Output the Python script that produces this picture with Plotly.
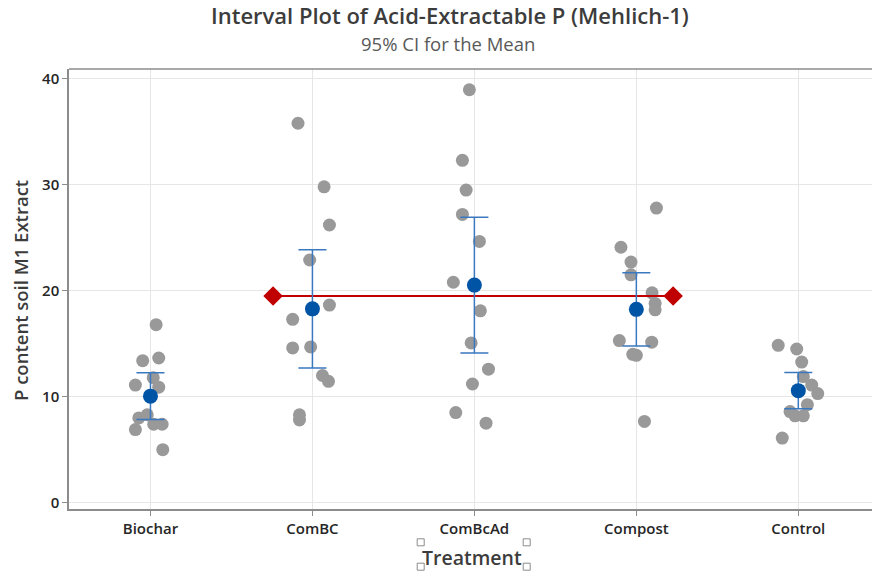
import math
import plotly.graph_objects as go

# Treatment groups and their Mehlich-1 P measurements
treatments = ["Biochar", "ComBC", "ComBcAd", "Compost", "Control"]

biochar = [16.8, 13.4, 13.65, 11.8, 11.1, 10.9, 8.0, 8.3, 6.9, 7.4, 7.4, 5.0]
combc = [35.8, 29.8, 26.2, 22.9, 18.65, 17.3, 14.6, 14.7, 12.0, 11.45, 8.3, 7.8]
combcad = [38.96, 32.3, 29.5, 27.2, 24.65, 20.8, 18.1, 15.07, 12.6, 11.2, 8.5, 7.5]
compost = [27.8, 24.1, 22.7, 21.5, 19.8, 18.8, 18.2, 15.3, 15.15, 14.0, 13.9, 7.67]
control = [14.85, 14.5, 13.27, 11.9, 11.1, 10.3, 9.25, 8.6, 8.2, 8.2, 6.1, 10.6]

# Horizontal jitter of the individual observations (category units)
jit_biochar = [0.035, -0.048, 0.051, 0.017, -0.093, 0.051, -0.072, -0.02, -0.093, 0.02, 0.072, 0.076]
jit_combc = [-0.089, 0.072, 0.105, -0.017, 0.105, -0.122, -0.122, -0.011, 0.062, 0.099, -0.08, -0.08]
jit_combcad = [-0.031, -0.074, -0.051, -0.074, 0.031, -0.13, 0.037, -0.02, 0.087, -0.012, -0.115, 0.072]
jit_compost = [0.124, -0.095, -0.033, -0.033, 0.097, 0.116, 0.116, -0.105, 0.095, -0.022, 0.0, 0.05]
jit_control = [-0.124, -0.01, 0.021, 0.031, 0.083, 0.12, 0.056, -0.051, -0.02, 0.031, -0.099, 0.0]

# Reference level drawn between ComBC and Compost
ref_level = 19.5
ref_from, ref_to = "ComBC", "Compost"

groups = [biochar, combc, combcad, compost, control]
jitters = [jit_biochar, jit_combc, jit_combcad, jit_compost, jit_control]

T_CRIT = {11: 2.200985, 10: 2.228139}


def mean_ci(vals):
    n = len(vals)
    m = sum(vals) / n
    sd = math.sqrt(sum((v - m) ** 2 for v in vals) / (n - 1))
    half = T_CRIT[n - 1] * sd / math.sqrt(n)
    return m, half


px, py = [], []
for i, (vals, jit) in enumerate(zip(groups, jitters)):
    for v, j in zip(vals, jit):
        px.append(i + j)
        py.append(v)

means, halves = zip(*[mean_ci(g) for g in groups])

fig = go.Figure()

fig.add_trace(go.Scatter(
    x=px, y=py, mode="markers",
    marker=dict(size=13, color="#999999"),
    showlegend=False, hoverinfo="y",
))

i0, i1 = treatments.index(ref_from), treatments.index(ref_to)
fig.add_trace(go.Scatter(
    x=[i0 - 0.243, i1 + 0.227], y=[ref_level, ref_level],
    mode="lines+markers",
    line=dict(color="#C00000", width=2),
    marker=dict(symbol="diamond", size=15, color="#C00000"),
    showlegend=False,
))

fig.add_trace(go.Scatter(
    x=list(range(len(treatments))), y=list(means), mode="markers",
    marker=dict(size=15, color="#0054A6"),
    error_y=dict(type="data", array=list(halves), visible=True,
                 color="#3A78C0", thickness=1.5, width=14),
    showlegend=False,
))

fig.update_layout(
    width=872, height=571,
    margin=dict(l=69, r=0, t=69, b=62),
    paper_bgcolor="white", plot_bgcolor="white",
    font=dict(family="Open Sans", color="#333333"),
    xaxis=dict(
        range=[-0.503, 4.455],
        tickmode="array", tickvals=list(range(len(treatments))), ticktext=treatments,
        showgrid=True, gridcolor="#E6E6E6", gridwidth=1,
        showline=True, linecolor="#8C8C8C", linewidth=1.5,
        ticks="outside", ticklen=5, tickcolor="#8C8C8C",
        tickfont=dict(size=15, color="#262626", weight=600),
        zeroline=False,
    ),
    yaxis=dict(
        range=[-0.595, 40.92],
        tickvals=[0, 10, 20, 30, 40],
        showgrid=True, gridcolor="#E6E6E6", gridwidth=1,
        showline=True, linecolor="#8C8C8C", linewidth=1.5,
        ticks="outside", ticklen=5, tickcolor="#8C8C8C",
        tickfont=dict(size=15, color="#262626", weight=600),
        zeroline=False,
    ),
    shapes=[
        dict(type="line", xref="paper", yref="paper", x0=0, x1=1, y0=1, y1=1,
             line=dict(color="#8C8C8C", width=1.5)),
    ],
    annotations=[
        dict(text="Interval Plot of Acid-Extractable P (Mehlich-1)", xref="paper", yref="paper",
             x=(449.5 - 69) / 803, y=1, yshift=54, showarrow=False,
             font=dict(size=22, color="#3C3C3C", weight=600), xanchor="center", yanchor="middle"),
        dict(text="95% CI for the Mean", xref="paper", yref="paper",
             x=(447.5 - 69) / 803, y=1, yshift=26, showarrow=False,
             font=dict(size=18.5, color="#595959"), xanchor="center", yanchor="middle"),
        dict(text="P content soil M1 Extract", xref="paper", yref="paper",
             x=0, xshift=-49, y=0.5, yshift=-2, textangle=-90, showarrow=False,
             font=dict(size=18.5, color="#3C3C3C", weight=600), xanchor="center", yanchor="middle"),
        dict(text="Treatment", xref="paper", yref="paper",
             x=(471.5 - 69) / 803, y=0, yshift=-48, showarrow=False,
             font=dict(size=19.5, color="#3C3C3C", weight=600), xanchor="center", yanchor="middle"),
    ],
)

# Small selection handles around the x-axis title
for hx, hy in [(420.7, 542.3), (526.7, 542.3), (420.7, 566.7), (526.7, 566.7)]:
    fig.add_shape(type="rect", xref="paper", yref="paper",
                  xsizemode="pixel", ysizemode="pixel",
                  xanchor=(hx - 69) / 803, yanchor=(509 - hy) / 440,
                  x0=-3.5, x1=3.5, y0=-3.5, y1=3.5,
                  line=dict(color="#8C8C8C", width=1), fillcolor="white")

fig.write_html("out.html")
